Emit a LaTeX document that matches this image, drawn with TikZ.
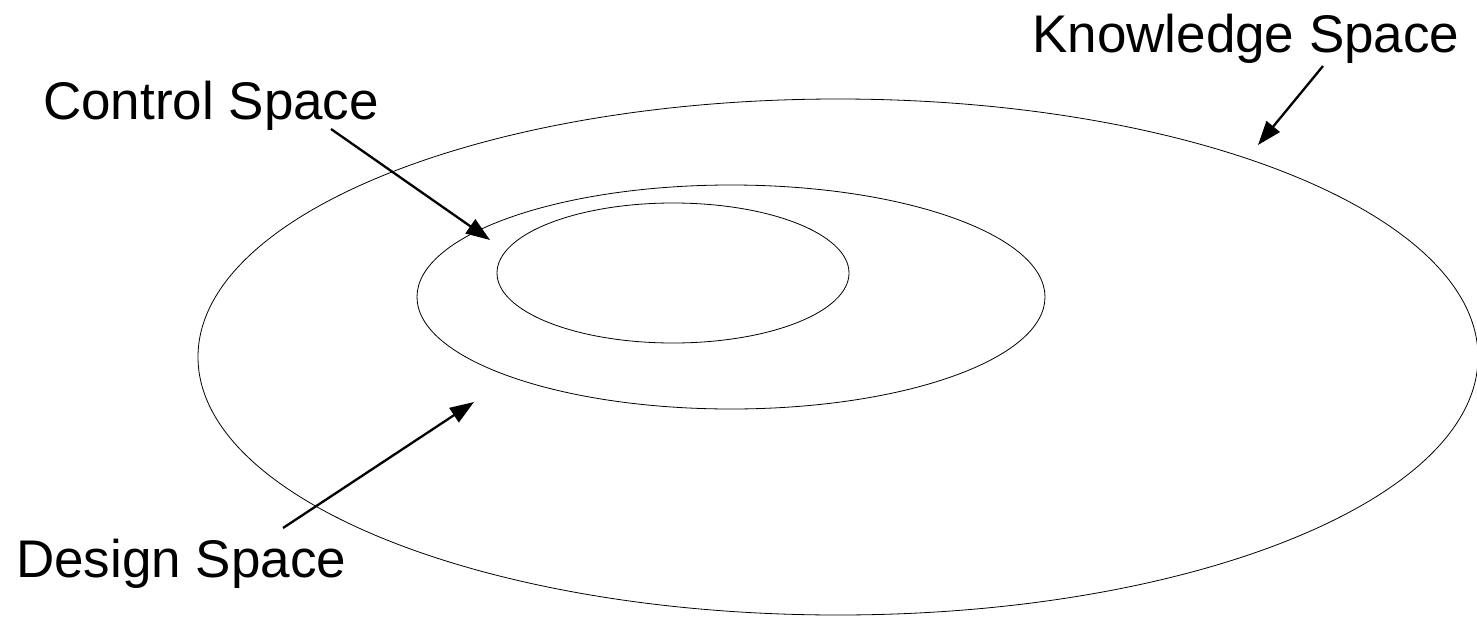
\documentclass[tikz,border=0pt]{standalone}
\usepackage{fontspec}
\setmainfont{Liberation Sans}
\usetikzlibrary{arrows.meta}
\begin{document}
\begin{tikzpicture}[x=1pt,y=-1pt,
  ring/.style={draw=black,line width=0.8pt},
  pointer/.style={draw=black,line width=2.3pt,-{Triangle[length=24pt,width=17pt]}},
  label/.style={inner sep=0pt,anchor=base west,font=\fontsize{53}{60}\selectfont}]
\useasboundingbox (0,0) rectangle (1477,616);
% ellipses
\coordinate (ko) at (838,357);
\coordinate (do) at (731,297);
\coordinate (co) at (673,273);
\draw[ring] (ko) ellipse [x radius=640, y radius=258];
\draw[ring] (do) ellipse [x radius=314, y radius=112];
\draw[ring] (co) ellipse [x radius=176, y radius=70];
% labels
\node[label] (ctl) at (43,119) {Control Space};
\node[label] (kno) at (1032,52) {Knowledge Space};
\node[label] (des) at (16,577) {Design Space};
% arrow ends
\coordinate (ctlS) at (331,129);
\coordinate (ctlT) at (490,240);
\coordinate (knoS) at (1323,66);
\coordinate (knoT) at (1258,145);
\coordinate (desS) at (283,528);
\coordinate (desT) at (474,402);
\draw[pointer] (ctlS) -- (ctlT);
\draw[pointer] (knoS) -- (knoT);
\draw[pointer] (desS) -- (desT);
\end{tikzpicture}
\end{document}
